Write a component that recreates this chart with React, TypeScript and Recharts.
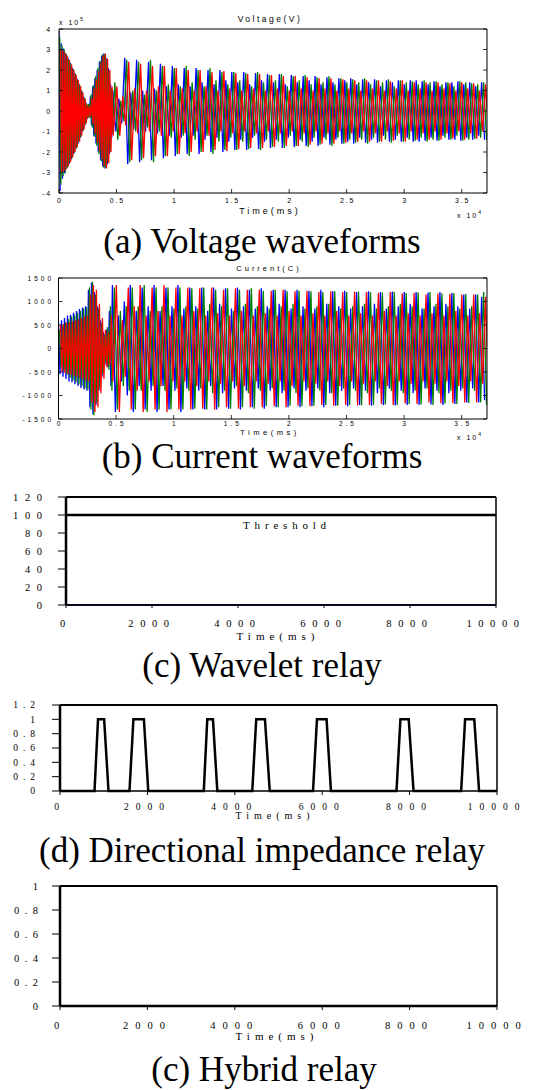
import React from "react";
import { LineChart, Line, XAxis, YAxis, ReferenceLine } from "recharts";

const SANS = "'Liberation Sans', Arial, sans-serif";
const SERIF = "'Liberation Serif', 'Times New Roman', serif";

// (a) voltage in x10^5 V, time in x10^4 ms.
// onset: fast transient up to ~0.47, one peak per cycle
const voltageOnsetCycle = 0.0195;
const voltageOnsetBlue = [
  3.9, 3.3, 3.05, 2.8, 2.6, 2.35, 2.1, 1.85, 1.6, 1.3, 1.0, 0.7,
  0.4, 0.3, 0.7, 1.2, 1.6, 2.0, 2.4, 2.7, 2.8, 2.6, 2.1, 1.3,
];
const voltageOnsetGreen = [
  3.6, 3.2, 3.0, 2.75, 2.5, 2.3, 2.05, 1.8, 1.5, 1.25, 0.95, 0.65,
  0.35, 0.35, 0.8, 1.25, 1.7, 2.1, 2.45, 2.75, 2.75, 2.5, 1.95, 1.1,
];
const voltageOnsetRed = [
  3.0, 2.95, 2.85, 2.7, 2.5, 2.25, 2.0, 1.75, 1.5, 1.2, 0.9, 0.6,
  0.3, 0.25, 0.65, 1.1, 1.55, 1.95, 2.35, 2.7, 2.8, 2.55, 2.0, 1.2,
];
// after the onset, one peak per cycle
const voltageCycle = 0.0517;
const voltageBlue = [
  1.0, 0.6, 2.6, 0.9, 2.5, 1.0, 2.4, 1.1, 2.3, 1.2, 2.2,
  1.3, 2.1, 1.2, 2.1, 1.4, 2.0, 1.3, 2.0, 1.5, 1.9, 1.4, 1.9, 1.3, 1.85, 1.5, 1.8, 1.4, 1.8, 1.3, 1.75,
  1.4, 1.7, 1.5, 1.7, 1.3, 1.65, 1.4, 1.6, 1.5, 1.6, 1.3, 1.55, 1.4, 1.55, 1.2, 1.5, 1.4, 1.5, 1.3, 1.5,
  1.5, 1.45, 1.3, 1.45, 1.2, 1.4, 1.4, 1.45, 1.3, 1.4, 1.2, 1.4,
];
const voltageGreen = [
  1.4, 0.5, 2.5, 1.0, 2.4, 0.8, 2.5, 1.0, 2.2, 1.3, 2.1,
  1.2, 2.2, 1.4, 2.0, 1.2, 2.1, 1.5, 1.9, 1.3, 1.9, 1.5, 1.85, 1.2, 1.9, 1.4, 1.75, 1.5, 1.8, 1.2, 1.7,
  1.5, 1.75, 1.3, 1.65, 1.4, 1.7, 1.3, 1.6, 1.4, 1.55, 1.4, 1.6, 1.3, 1.5, 1.4, 1.55, 1.2, 1.5, 1.4, 1.45,
  1.3, 1.5, 1.4, 1.45, 1.3, 1.4, 1.2, 1.45, 1.4, 1.35, 1.3, 1.4,
];
const voltageRed = [
  1.2, 0.7, 2.4, 1.1, 2.3, 1.0, 2.2, 1.2, 2.2, 1.0, 2.1,
  1.1, 2.0, 1.0, 2.0, 1.2, 1.9, 1.0, 1.95, 1.1, 1.85, 1.0, 1.8, 1.1, 1.8, 1.0, 1.75, 1.1, 1.7, 1.0, 1.7,
  1.1, 1.65, 1.0, 1.6, 1.1, 1.6, 1.0, 1.55, 1.1, 1.5, 1.0, 1.5, 1.1, 1.5, 1.0, 1.45, 1.1, 1.5, 1.0, 1.4,
  1.1, 1.4, 1.0, 1.4, 1.1, 1.35, 1.0, 1.4, 1.1, 1.35, 1.0, 1.3,
];
const voltageTicks = [-4, -3, -2, -1, 0, 1, 2, 3, 4];

// (b) current in A
const currentOnsetCycle = 0.026;
const currentOnsetBlue = [550, 600, 650, 700, 720, 760, 800, 840, 870, 900, 1250, 1400, 1200, 900, 600, 350, 400, 800];
const currentOnsetGreen = [400, 480, 560, 620, 680, 720, 760, 800, 850, 880, 1300, 1420, 1150, 850, 550, 300, 450, 900];
const currentOnsetRed = [500, 520, 540, 560, 580, 600, 620, 650, 680, 700, 1150, 1350, 1250, 950, 650, 400, 350, 700];
const currentCycle = 0.0517;
const currentBlue = [
  1350, 700, 1000, 1350, 800, 1300, 900, 1350, 800, 1300, 900,
  1350, 850, 1300, 900, 1300, 800, 1300, 950, 1280, 850, 1300, 900, 1250, 850, 1280, 900, 1250, 950, 1250, 850,
  1250, 900, 1230, 850, 1250, 950, 1220, 900, 1230, 850, 1200, 900, 1220, 950, 1200, 850, 1210, 900, 1200, 950,
  1200, 850, 1190, 900, 1200, 950, 1180, 900, 1150, 850, 1150, 1100,
];
const currentGreen = [
  1300, 800, 900, 1300, 900, 1350, 800, 1300, 900, 1300, 850,
  1300, 900, 1280, 850, 1300, 950, 1250, 900, 1280, 800, 1250, 950, 1280, 900, 1230, 850, 1250, 900, 1220, 950,
  1230, 850, 1220, 900, 1200, 950, 1220, 850, 1200, 900, 1210, 950, 1200, 850, 1190, 900, 1200, 950, 1180, 900,
  1190, 850, 1200, 950, 1170, 900, 1180, 850, 1160, 900, 1150, 1200,
];
const currentRed = [
  1350, 600, 1300, 900, 1350, 700, 1300, 800, 1350, 700, 1300,
  700, 1300, 800, 1280, 700, 1300, 750, 1250, 700, 1280, 800, 1250, 700, 1250, 750, 1230, 700, 1250, 800, 1220,
  700, 1230, 750, 1200, 700, 1220, 800, 1200, 700, 1210, 750, 1200, 700, 1180, 800, 1200, 700, 1170, 750, 1180,
  700, 1150, 750, 1170, 700, 1160, 800, 1150, 700, 1150, 750, 1100,
];
const currentTicks = [-1500, -1000, -500, 0, 500, 1000, 1500];

const waveTimeTicks = [0, 0.5, 1, 1.5, 2, 2.5, 3, 3.5];

// (c) wavelet relay
const waveletTime = [0, 10000];
const waveletOutput = [0, 0];
const waveletThreshold = [100, 100];
const waveletTicks = [0, 20, 40, 60, 80, 100, 120];

// (d) directional impedance relay
const impedanceTime = [
  0, 790, 870, 1010, 1110, 1590, 1680, 1920, 2020, 3290, 3370, 3500, 3600, 4400, 4490, 4690, 4800,
  5790, 5880, 6100, 6200, 7700, 7790, 7980, 8090, 9180, 9270, 9480, 9590, 10000,
];
const impedanceTrip = [
  0, 0, 1, 1, 0, 0, 1, 1, 0, 0, 1, 1, 0, 0, 1, 1, 0,
  0, 1, 1, 0, 0, 1, 1, 0, 0, 1, 1, 0, 0,
];
const impedanceTicks = [0, 0.2, 0.4, 0.6, 0.8, 1, 1.2];

// (e) hybrid relay
const hybridTime = [0, 10000];
const hybridTrip = [0, 0];
const hybridTicks = [0, 0.2, 0.4, 0.6, 0.8, 1];

const relayTimeTicks = [0, 2000, 4000, 6000, 8000, 10000];

// peaks -> alternating +peak / -peak points, half a cycle apart
const toWave = (peaks: number[], phase: number, cycle: number, start = 0) =>
  peaks.flatMap((a, k) => [
    { t: start + (k + phase) * cycle, v: a },
    { t: start + (k + phase + 0.5) * cycle, v: -a },
  ]);

const twoStage = (onset: number[], onsetCycle: number, main: number[], mainCycle: number, phase: number) => [
  ...toWave(onset, phase, onsetCycle),
  ...toWave(main, phase, mainCycle, onset.length * onsetCycle),
];

const zip = (ts: number[], vs: number[]) => ts.map((t, i) => ({ t, v: vs[i] }));

type Side = "left" | "right" | "top" | "bottom";

// ticks pointing into the plot, labels outside
function inwardTick(side: Side, font?: { size: number; spacing: number; gap: number }) {
  return (props: any) => {
    const { x, y, payload } = props;
    const dx = side === "left" ? 4 : side === "right" ? -4 : 0;
    const dy = side === "bottom" ? -4 : side === "top" ? 4 : 0;
    let label = null;
    if (font) {
      const common = {
        fontFamily: SANS,
        fontSize: font.size,
        letterSpacing: font.spacing,
        fill: "#000",
        dominantBaseline: "central" as const,
      };
      label =
        side === "bottom" ? (
          <text x={x + font.spacing / 2} y={y + font.gap} textAnchor="middle" {...common}>
            {payload.value}
          </text>
        ) : (
          <text x={x - font.gap} y={y} textAnchor="end" {...common}>
            {payload.value}
          </text>
        );
    }
    return (
      <g>
        <line x1={x} y1={y} x2={x + dx} y2={y + dy} stroke="#000" strokeWidth={0.8} />
        {label}
      </g>
    );
  };
}

interface WaveProps {
  top: number;
  height: number;
  margin: { top: number; right: number; bottom: number; left: number };
  lines: { data: { t: number; v: number }[]; color: string }[];
  yDomain: [number, number];
  yTicks: number[];
  xFont: { size: number; spacing: number; gap: number };
  yFont: { size: number; spacing: number; gap: number };
}

function WavePanel({ top, height, margin, lines, yDomain, yTicks, xFont, yFont }: WaveProps) {
  const axisCommon = {
    allowDataOverflow: true,
    interval: 0 as const,
    tickSize: 0,
    tickMargin: 0,
    tickLine: false,
    axisLine: { stroke: "#000", strokeWidth: 1 },
  };
  return (
    <div style={{ position: "absolute", left: 0, top }}>
      <LineChart width={547} height={height} margin={margin}>
        <XAxis dataKey="t" type="number" domain={[0, 3.72]} ticks={waveTimeTicks} height={20} tick={inwardTick("bottom", xFont)} {...axisCommon} />
        <XAxis xAxisId="top" orientation="top" type="number" domain={[0, 3.72]} ticks={waveTimeTicks} height={10} tick={inwardTick("top")} {...axisCommon} />
        <YAxis type="number" domain={yDomain} ticks={yTicks} width={30} tick={inwardTick("left", yFont)} {...axisCommon} />
        <YAxis yAxisId="right" orientation="right" type="number" domain={yDomain} ticks={yTicks} width={10} tick={inwardTick("right")} {...axisCommon} />
        {lines.map((l, i) => (
          <Line key={i} data={l.data} dataKey="v" type="linear" stroke={l.color} strokeWidth={1.3} dot={false} isAnimationActive={false} />
        ))}
      </LineChart>
    </div>
  );
}

interface RelayProps {
  top: number;
  height: number;
  marginTop: number;
  yWidth: number;
  right: number;
  yDomain: [number, number];
  yTicks: number[];
  yFont: { size: number; spacing: number; margin: number };
  xFont: { size: number; spacing: number; margin: number; tickSize: number };
  children: React.ReactNode;
}

function RelayPanel({ top, height, marginTop, yWidth, right, yDomain, yTicks, yFont, xFont, children }: RelayProps) {
  return (
    <div style={{ position: "absolute", left: 0, top }}>
      <LineChart width={547} height={height} margin={{ top: marginTop, right, bottom: 0, left: 0 }}>
        <XAxis
          dataKey="t"
          type="number"
          domain={[0, 10000]}
          ticks={relayTimeTicks}
          interval={0}
          height={25}
          tickSize={xFont.tickSize}
          tickMargin={xFont.margin}
          tickLine={{ stroke: "#000" }}
          axisLine={{ stroke: "#000", strokeWidth: 1.5 }}
          tick={{ fontFamily: SERIF, fontSize: xFont.size, letterSpacing: xFont.spacing, fill: "#000" }}
        />
        <YAxis
          type="number"
          domain={yDomain}
          ticks={yTicks}
          interval={0}
          width={yWidth}
          tickSize={8}
          tickMargin={yFont.margin}
          tickLine={{ stroke: "#000" }}
          axisLine={{ stroke: "#000", strokeWidth: 2.5 }}
          tick={{ fontFamily: SERIF, fontSize: yFont.size, letterSpacing: yFont.spacing, fill: "#000" }}
        />
        <ReferenceLine y={yDomain[1]} stroke="#000" strokeWidth={2} />
        <ReferenceLine x={10000} stroke="#000" strokeWidth={1.5} />
        {children}
      </LineChart>
    </div>
  );
}

function Note({
  x,
  y,
  size,
  family,
  spacing = 0,
  anchor = "middle",
  children,
}: {
  x: number;
  y: number;
  size: number;
  family: string;
  spacing?: number;
  anchor?: "middle" | "start";
  children: React.ReactNode;
}) {
  return (
    <div
      style={{
        position: "absolute",
        left: x,
        top: y,
        transform: `translate(${anchor === "middle" ? "-50%" : "0"}, -50%)`,
        fontFamily: family,
        fontSize: size,
        letterSpacing: spacing,
        lineHeight: 1,
        whiteSpace: "nowrap",
        color: "#000",
      }}
    >
      {children}
    </div>
  );
}

const Power = ({ exp }: { exp: number }) => (
  <span>
    x 10<span style={{ fontSize: 5, verticalAlign: 4 }}>{exp}</span>
  </span>
);

export default function App() {
  return (
    <div style={{ position: "absolute", left: 0, top: 0, width: 547, height: 1090, background: "#fff", overflow: "hidden" }}>
      <WavePanel
        top={0}
        height={225}
        margin={{ top: 19, right: 50, bottom: 12, left: 29 }}
        lines={[
          { data: twoStage(voltageOnsetBlue, voltageOnsetCycle, voltageBlue, voltageCycle, 0), color: "#0000ff" },
          { data: twoStage(voltageOnsetGreen, voltageOnsetCycle, voltageGreen, voltageCycle, 1 / 3), color: "#008000" },
          { data: twoStage(voltageOnsetRed, voltageOnsetCycle, voltageRed, voltageCycle, 2 / 3), color: "#ff0000" },
        ]}
        yDomain={[-4, 4]}
        yTicks={voltageTicks}
        xFont={{ size: 7, spacing: 1.8, gap: 7 }}
        yFont={{ size: 7, spacing: 1.8, gap: 7 }}
      />
      <WavePanel
        top={230}
        height={215}
        margin={{ top: 38, right: 50, bottom: 6, left: 28.5 }}
        lines={[
          { data: twoStage(currentOnsetBlue, currentOnsetCycle, currentBlue, currentCycle, 0), color: "#0000ff" },
          { data: twoStage(currentOnsetGreen, currentOnsetCycle, currentGreen, currentCycle, 1 / 3), color: "#008000" },
          { data: twoStage(currentOnsetRed, currentOnsetCycle, currentRed, currentCycle, 2 / 3), color: "#ff0000" },
        ]}
        yDomain={[-1500, 1500]}
        yTicks={currentTicks}
        xFont={{ size: 6.5, spacing: 3, gap: 4.5 }}
        yFont={{ size: 6.5, spacing: 3, gap: 4.5 }}
      />
      <RelayPanel
        top={480}
        height={150}
        marginTop={17}
        yWidth={66}
        right={51}
        yDomain={[0, 120]}
        yTicks={waveletTicks}
        yFont={{ size: 10.5, spacing: 6.6, margin: 9.4 }}
        xFont={{ size: 10.5, spacing: 6.6, margin: 12, tickSize: 3 }}
      >
        <Line data={zip(waveletTime, waveletThreshold)} dataKey="v" type="linear" stroke="#000" strokeWidth={2.5} dot={false} isAnimationActive={false} />
        <Line data={zip(waveletTime, waveletOutput)} dataKey="v" type="linear" stroke="#1a237e" strokeWidth={2} dot={false} isAnimationActive={false} />
      </RelayPanel>
      <RelayPanel
        top={690}
        height={126}
        marginTop={15}
        yWidth={60}
        right={50}
        yDomain={[0, 1.2]}
        yTicks={impedanceTicks}
        yFont={{ size: 9.5, spacing: 5, margin: 12 }}
        xFont={{ size: 9.5, spacing: 7, margin: 8, tickSize: 4 }}
      >
        <Line data={zip(impedanceTime, impedanceTrip)} dataKey="v" type="linear" stroke="#000" strokeWidth={2.5} dot={false} isAnimationActive={false} />
      </RelayPanel>
      <RelayPanel
        top={870}
        height={161}
        marginTop={16}
        yWidth={60}
        right={50}
        yDomain={[0, 1]}
        yTicks={hybridTicks}
        yFont={{ size: 10.5, spacing: 5.5, margin: 8.5 }}
        xFont={{ size: 10.5, spacing: 7, margin: 12, tickSize: 4 }}
      >
        <Line data={zip(hybridTime, hybridTrip)} dataKey="v" type="linear" stroke="#000" strokeWidth={2.5} dot={false} isAnimationActive={false} />
      </RelayPanel>

      <Note x={270} y={19} size={8.5} family={SANS} spacing={2.5}>Voltage(V)</Note>
      <Note x={59} y={21} size={7} family={SANS} spacing={2} anchor="start"><Power exp={5} /></Note>
      <Note x={270} y={211} size={9} family={SANS} spacing={3}>Time(ms)</Note>
      <Note x={457} y={214} size={7} family={SANS} spacing={2} anchor="start"><Power exp={4} /></Note>
      <Note x={262} y={241} size={35} family={SERIF}>(a) Voltage waveforms</Note>

      <Note x={269} y={269} size={7.5} family={SANS} spacing={3}>Current(C)</Note>
      <Note x={270} y={433} size={7.5} family={SANS} spacing={3.5}>Time(ms)</Note>
      <Note x={457} y={436} size={7} family={SANS} spacing={2} anchor="start"><Power exp={4} /></Note>
      <Note x={262} y={456} size={35} family={SERIF}>(b) Current waveforms</Note>

      <Note x={287} y={525} size={11} family={SERIF} spacing={4.8}>Threshold</Note>
      <Note x={278} y={636} size={11} family={SERIF} spacing={5}>Time(ms)</Note>
      <Note x={262} y={665} size={35} family={SERIF}>(c) Wavelet relay</Note>

      <Note x={275} y={816} size={10} family={SERIF} spacing={5}>Time(ms)</Note>
      <Note x={262} y={850} size={35} family={SERIF}>(d) Directional impedance relay</Note>

      <Note x={277} y={1036} size={11} family={SERIF} spacing={5}>Time(ms)</Note>
      <Note x={264} y={1069} size={35} family={SERIF}>(c) Hybrid relay</Note>
    </div>
  );
}
